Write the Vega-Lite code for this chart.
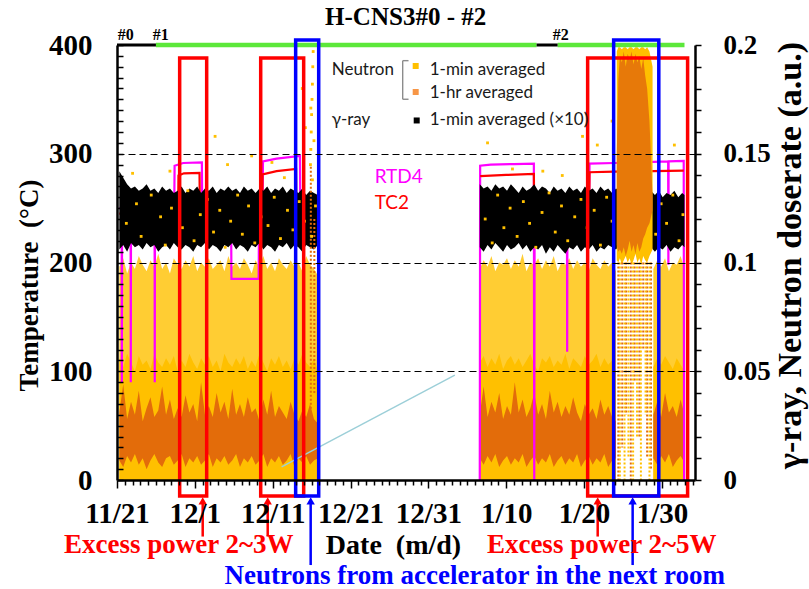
{
"$schema": "https://vega.github.io/schema/vega-lite/v6.json",
"width": 578, "height": 435,
"autosize": {"type": "none"},
"padding": {"left": 117, "top": 45, "right": 114, "bottom": 109},
"background": "white",
"config": {"view": {"stroke": null}, "legend": {"disable": true}},
"datasets": {
"neutronBase": [
{"s":"A","d":0.3,"yt":0.098,"ym":0.056,"olo":0.009,"ohi":0.031},
{"s":"A","d":0.8,"yt":0.102,"ym":0.052,"olo":0.006,"ohi":0.044},
{"s":"A","d":1.3,"yt":0.095,"ym":0.058,"olo":0.011,"ohi":0.028},
{"s":"A","d":1.8,"yt":0.100,"ym":0.054,"olo":0.008,"ohi":0.036},
{"s":"A","d":2.3,"yt":0.097,"ym":0.050,"olo":0.012,"ohi":0.030},
{"s":"A","d":2.8,"yt":0.103,"ym":0.057,"olo":0.007,"ohi":0.041},
{"s":"A","d":3.3,"yt":0.099,"ym":0.053,"olo":0.010,"ohi":0.027},
{"s":"A","d":3.8,"yt":0.096,"ym":0.055,"olo":0.005,"ohi":0.033},
{"s":"A","d":4.3,"yt":0.101,"ym":0.051,"olo":0.009,"ohi":0.038},
{"s":"A","d":4.8,"yt":0.098,"ym":0.058,"olo":0.012,"ohi":0.029},
{"s":"A","d":5.3,"yt":0.104,"ym":0.054,"olo":0.008,"ohi":0.032},
{"s":"A","d":5.8,"yt":0.097,"ym":0.052,"olo":0.006,"ohi":0.043},
{"s":"A","d":6.3,"yt":0.100,"ym":0.056,"olo":0.010,"ohi":0.030},
{"s":"A","d":6.8,"yt":0.095,"ym":0.053,"olo":0.011,"ohi":0.037},
{"s":"A","d":7.3,"yt":0.102,"ym":0.057,"olo":0.007,"ohi":0.028},
{"s":"A","d":7.8,"yt":0.099,"ym":0.050,"olo":0.009,"ohi":0.033},
{"s":"A","d":8.3,"yt":0.097,"ym":0.055,"olo":0.012,"ohi":0.029},
{"s":"A","d":8.8,"yt":0.101,"ym":0.052,"olo":0.006,"ohi":0.039},
{"s":"A","d":9.3,"yt":0.098,"ym":0.058,"olo":0.010,"ohi":0.031},
{"s":"A","d":9.8,"yt":0.103,"ym":0.054,"olo":0.008,"ohi":0.035},
{"s":"A","d":10.3,"yt":0.096,"ym":0.051,"olo":0.011,"ohi":0.027},
{"s":"A","d":10.8,"yt":0.100,"ym":0.056,"olo":0.007,"ohi":0.045},
{"s":"A","d":11.3,"yt":0.098,"ym":0.053,"olo":0.009,"ohi":0.030},
{"s":"A","d":11.8,"yt":0.102,"ym":0.057,"olo":0.012,"ohi":0.034},
{"s":"A","d":12.3,"yt":0.097,"ym":0.052,"olo":0.006,"ohi":0.029},
{"s":"A","d":12.8,"yt":0.099,"ym":0.055,"olo":0.010,"ohi":0.040},
{"s":"A","d":13.3,"yt":0.101,"ym":0.050,"olo":0.008,"ohi":0.031},
{"s":"A","d":13.8,"yt":0.096,"ym":0.058,"olo":0.011,"ohi":0.036},
{"s":"A","d":14.3,"yt":0.103,"ym":0.054,"olo":0.007,"ohi":0.028},
{"s":"A","d":14.8,"yt":0.098,"ym":0.052,"olo":0.009,"ohi":0.042},
{"s":"A","d":15.3,"yt":0.100,"ym":0.056,"olo":0.012,"ohi":0.030},
{"s":"A","d":15.8,"yt":0.097,"ym":0.053,"olo":0.006,"ohi":0.035},
{"s":"A","d":16.3,"yt":0.102,"ym":0.057,"olo":0.010,"ohi":0.029},
{"s":"A","d":16.8,"yt":0.099,"ym":0.051,"olo":0.008,"ohi":0.038},
{"s":"A","d":17.3,"yt":0.095,"ym":0.055,"olo":0.011,"ohi":0.031},
{"s":"A","d":17.8,"yt":0.101,"ym":0.052,"olo":0.007,"ohi":0.033},
{"s":"A","d":18.3,"yt":0.098,"ym":0.058,"olo":0.009,"ohi":0.027},
{"s":"A","d":18.8,"yt":0.103,"ym":0.054,"olo":0.012,"ohi":0.037},
{"s":"A","d":19.3,"yt":0.097,"ym":0.050,"olo":0.006,"ohi":0.030},
{"s":"A","d":19.8,"yt":0.100,"ym":0.056,"olo":0.010,"ohi":0.041},
{"s":"A","d":20.3,"yt":0.096,"ym":0.053,"olo":0.008,"ohi":0.029},
{"s":"A","d":20.8,"yt":0.102,"ym":0.057,"olo":0.011,"ohi":0.034},
{"s":"A","d":21.3,"yt":0.099,"ym":0.052,"olo":0.007,"ohi":0.031},
{"s":"A","d":21.8,"yt":0.097,"ym":0.055,"olo":0.009,"ohi":0.028},
{"s":"A","d":22.3,"yt":0.101,"ym":0.051,"olo":0.012,"ohi":0.036},
{"s":"A","d":22.8,"yt":0.098,"ym":0.056,"olo":0.006,"ohi":0.030},
{"s":"A","d":23.3,"yt":0.100,"ym":0.053,"olo":0.010,"ohi":0.027},
{"s":"A","d":23.8,"yt":0.096,"ym":0.058,"olo":0.008,"ohi":0.032},
{"s":"A","d":24.3,"yt":0.103,"ym":0.054,"olo":0.011,"ohi":0.029},
{"s":"A","d":24.8,"yt":0.099,"ym":0.052,"olo":0.007,"ohi":0.035},
{"s":"A","d":25.3,"yt":0.097,"ym":0.056,"olo":0.009,"ohi":0.028},
{"s":"A","d":25.8,"yt":0.094,"ym":0.050,"olo":0.010,"ohi":0.026},
{"s":"B","d":46.6,"yt":0.097,"ym":0.054,"olo":0.010,"ohi":0.030},
{"s":"B","d":47.1,"yt":0.101,"ym":0.057,"olo":0.007,"ohi":0.043},
{"s":"B","d":47.6,"yt":0.098,"ym":0.052,"olo":0.011,"ohi":0.029},
{"s":"B","d":48.1,"yt":0.103,"ym":0.056,"olo":0.008,"ohi":0.036},
{"s":"B","d":48.6,"yt":0.096,"ym":0.053,"olo":0.012,"ohi":0.031},
{"s":"B","d":49.1,"yt":0.100,"ym":0.058,"olo":0.006,"ohi":0.040},
{"s":"B","d":49.6,"yt":0.099,"ym":0.051,"olo":0.009,"ohi":0.028},
{"s":"B","d":50.1,"yt":0.102,"ym":0.055,"olo":0.011,"ohi":0.034},
{"s":"B","d":50.6,"yt":0.097,"ym":0.057,"olo":0.007,"ohi":0.030},
{"s":"B","d":51.1,"yt":0.101,"ym":0.053,"olo":0.010,"ohi":0.045},
{"s":"B","d":51.6,"yt":0.098,"ym":0.056,"olo":0.008,"ohi":0.031},
{"s":"B","d":52.1,"yt":0.104,"ym":0.052,"olo":0.012,"ohi":0.037},
{"s":"B","d":52.6,"yt":0.096,"ym":0.055,"olo":0.006,"ohi":0.029},
{"s":"B","d":53.1,"yt":0.100,"ym":0.058,"olo":0.009,"ohi":0.033},
{"s":"B","d":53.6,"yt":0.099,"ym":0.053,"olo":0.011,"ohi":0.040},
{"s":"B","d":54.1,"yt":0.102,"ym":0.050,"olo":0.007,"ohi":0.030},
{"s":"B","d":54.6,"yt":0.097,"ym":0.056,"olo":0.010,"ohi":0.035},
{"s":"B","d":55.1,"yt":0.101,"ym":0.054,"olo":0.008,"ohi":0.028},
{"s":"B","d":55.6,"yt":0.098,"ym":0.057,"olo":0.012,"ohi":0.041},
{"s":"B","d":56.1,"yt":0.103,"ym":0.052,"olo":0.006,"ohi":0.031},
{"s":"B","d":56.6,"yt":0.096,"ym":0.055,"olo":0.009,"ohi":0.036},
{"s":"B","d":57.1,"yt":0.100,"ym":0.053,"olo":0.011,"ohi":0.029},
{"s":"B","d":57.6,"yt":0.099,"ym":0.058,"olo":0.007,"ohi":0.034},
{"s":"B","d":58.1,"yt":0.102,"ym":0.051,"olo":0.010,"ohi":0.030},
{"s":"B","d":58.6,"yt":0.097,"ym":0.056,"olo":0.008,"ohi":0.038},
{"s":"B","d":59.1,"yt":0.101,"ym":0.054,"olo":0.012,"ohi":0.031},
{"s":"B","d":59.6,"yt":0.098,"ym":0.052,"olo":0.006,"ohi":0.027},
{"s":"B","d":60.1,"yt":0.100,"ym":0.057,"olo":0.009,"ohi":0.035},
{"s":"B","d":60.6,"yt":0.096,"ym":0.053,"olo":0.011,"ohi":0.030},
{"s":"B","d":61.1,"yt":0.102,"ym":0.055,"olo":0.007,"ohi":0.033},
{"s":"B","d":61.6,"yt":0.099,"ym":0.058,"olo":0.010,"ohi":0.028},
{"s":"B","d":62.1,"yt":0.097,"ym":0.052,"olo":0.008,"ohi":0.037},
{"s":"B","d":62.6,"yt":0.101,"ym":0.056,"olo":0.012,"ohi":0.030},
{"s":"B","d":63.1,"yt":0.098,"ym":0.053,"olo":0.006,"ohi":0.034},
{"s":"B","d":63.6,"yt":0.100,"ym":0.055,"olo":0.009,"ohi":0.029},
{"s":"B","d":64.1,"yt":0.096,"ym":0.050,"olo":0.010,"ohi":0.027},
{"s":"D","d":68.9,"yt":0.097,"ym":0.052,"olo":0.010,"ohi":0.030},
{"s":"D","d":69.4,"yt":0.101,"ym":0.056,"olo":0.007,"ohi":0.036},
{"s":"D","d":69.9,"yt":0.098,"ym":0.053,"olo":0.011,"ohi":0.029},
{"s":"D","d":70.4,"yt":0.102,"ym":0.057,"olo":0.008,"ohi":0.040},
{"s":"D","d":70.9,"yt":0.096,"ym":0.054,"olo":0.012,"ohi":0.031},
{"s":"D","d":71.4,"yt":0.100,"ym":0.051,"olo":0.006,"ohi":0.034},
{"s":"D","d":71.9,"yt":0.099,"ym":0.056,"olo":0.009,"ohi":0.029},
{"s":"D","d":72.4,"yt":0.103,"ym":0.053,"olo":0.011,"ohi":0.037},
{"s":"D","d":72.9,"yt":0.097,"ym":0.050,"olo":0.008,"ohi":0.030}
],
"gamma": [
{"s":"A","d":0.3,"lo":0.106,"hi":0.142},{"s":"A","d":0.8,"lo":0.108,"hi":0.139},{"s":"A","d":1.3,"lo":0.105,"hi":0.136},{"s":"A","d":1.8,"lo":0.109,"hi":0.134},
{"s":"A","d":2.3,"lo":0.107,"hi":0.135},{"s":"A","d":2.8,"lo":0.108,"hi":0.133},{"s":"A","d":3.3,"lo":0.106,"hi":0.134},{"s":"A","d":3.8,"lo":0.109,"hi":0.136},
{"s":"A","d":4.3,"lo":0.107,"hi":0.133},{"s":"A","d":4.8,"lo":0.108,"hi":0.134},{"s":"A","d":5.3,"lo":0.105,"hi":0.132},{"s":"A","d":5.8,"lo":0.107,"hi":0.135},
{"s":"A","d":6.3,"lo":0.108,"hi":0.133},{"s":"A","d":6.8,"lo":0.106,"hi":0.134},{"s":"A","d":7.3,"lo":0.109,"hi":0.132},{"s":"A","d":7.8,"lo":0.107,"hi":0.133},
{"s":"A","d":8.3,"lo":0.106,"hi":0.135},{"s":"A","d":8.8,"lo":0.108,"hi":0.132},{"s":"A","d":9.3,"lo":0.107,"hi":0.134},{"s":"A","d":9.8,"lo":0.105,"hi":0.133},
{"s":"A","d":10.3,"lo":0.108,"hi":0.135},{"s":"A","d":10.8,"lo":0.107,"hi":0.132},{"s":"A","d":11.3,"lo":0.109,"hi":0.134},{"s":"A","d":11.8,"lo":0.106,"hi":0.133},
{"s":"A","d":12.3,"lo":0.108,"hi":0.135},{"s":"A","d":12.8,"lo":0.107,"hi":0.132},{"s":"A","d":13.3,"lo":0.105,"hi":0.134},{"s":"A","d":13.8,"lo":0.108,"hi":0.133},
{"s":"A","d":14.3,"lo":0.107,"hi":0.135},{"s":"A","d":14.8,"lo":0.109,"hi":0.133},{"s":"A","d":15.3,"lo":0.106,"hi":0.134},{"s":"A","d":15.8,"lo":0.108,"hi":0.132},
{"s":"A","d":16.3,"lo":0.107,"hi":0.135},{"s":"A","d":16.8,"lo":0.105,"hi":0.133},{"s":"A","d":17.3,"lo":0.108,"hi":0.134},{"s":"A","d":17.8,"lo":0.107,"hi":0.132},
{"s":"A","d":18.3,"lo":0.109,"hi":0.134},{"s":"A","d":18.8,"lo":0.106,"hi":0.133},{"s":"A","d":19.3,"lo":0.108,"hi":0.135},{"s":"A","d":19.8,"lo":0.107,"hi":0.132},
{"s":"A","d":20.3,"lo":0.105,"hi":0.134},{"s":"A","d":20.8,"lo":0.108,"hi":0.133},{"s":"A","d":21.3,"lo":0.107,"hi":0.135},{"s":"A","d":21.8,"lo":0.109,"hi":0.132},
{"s":"A","d":22.3,"lo":0.106,"hi":0.134},{"s":"A","d":22.8,"lo":0.108,"hi":0.133},{"s":"A","d":23.3,"lo":0.107,"hi":0.132},{"s":"A","d":23.8,"lo":0.105,"hi":0.134},
{"s":"A","d":24.3,"lo":0.108,"hi":0.131},{"s":"A","d":24.8,"lo":0.107,"hi":0.133},{"s":"A","d":25.3,"lo":0.106,"hi":0.132},{"s":"A","d":25.8,"lo":0.108,"hi":0.131},
{"s":"B","d":46.6,"lo":0.107,"hi":0.136},{"s":"B","d":47.1,"lo":0.105,"hi":0.134},{"s":"B","d":47.6,"lo":0.108,"hi":0.135},{"s":"B","d":48.1,"lo":0.106,"hi":0.133},
{"s":"B","d":48.6,"lo":0.109,"hi":0.136},{"s":"B","d":49.1,"lo":0.107,"hi":0.134},{"s":"B","d":49.6,"lo":0.105,"hi":0.135},{"s":"B","d":50.1,"lo":0.108,"hi":0.133},
{"s":"B","d":50.6,"lo":0.106,"hi":0.136},{"s":"B","d":51.1,"lo":0.107,"hi":0.134},{"s":"B","d":51.6,"lo":0.109,"hi":0.132},{"s":"B","d":52.1,"lo":0.106,"hi":0.135},
{"s":"B","d":52.6,"lo":0.108,"hi":0.133},{"s":"B","d":53.1,"lo":0.105,"hi":0.134},{"s":"B","d":53.6,"lo":0.107,"hi":0.136},{"s":"B","d":54.1,"lo":0.106,"hi":0.133},
{"s":"B","d":54.6,"lo":0.108,"hi":0.135},{"s":"B","d":55.1,"lo":0.104,"hi":0.134},{"s":"B","d":55.6,"lo":0.107,"hi":0.132},{"s":"B","d":56.1,"lo":0.105,"hi":0.135},
{"s":"B","d":56.6,"lo":0.108,"hi":0.133},{"s":"B","d":57.1,"lo":0.106,"hi":0.134},{"s":"B","d":57.6,"lo":0.104,"hi":0.132},{"s":"B","d":58.1,"lo":0.107,"hi":0.135},
{"s":"B","d":58.6,"lo":0.106,"hi":0.133},{"s":"B","d":59.1,"lo":0.108,"hi":0.134},{"s":"B","d":59.6,"lo":0.105,"hi":0.132},{"s":"B","d":60.1,"lo":0.107,"hi":0.135},
{"s":"B","d":60.6,"lo":0.106,"hi":0.133},{"s":"B","d":61.1,"lo":0.108,"hi":0.134},{"s":"B","d":61.6,"lo":0.105,"hi":0.132},{"s":"B","d":62.1,"lo":0.107,"hi":0.135},
{"s":"B","d":62.6,"lo":0.106,"hi":0.133},{"s":"B","d":63.1,"lo":0.108,"hi":0.134},{"s":"B","d":63.6,"lo":0.107,"hi":0.132},{"s":"B","d":64.1,"lo":0.106,"hi":0.134},
{"s":"B","d":64.6,"lo":0.108,"hi":0.133},{"s":"B","d":65.1,"lo":0.107,"hi":0.135},{"s":"B","d":65.6,"lo":0.106,"hi":0.133},{"s":"B","d":66.1,"lo":0.108,"hi":0.134},
{"s":"B","d":66.6,"lo":0.105,"hi":0.132},{"s":"B","d":67.1,"lo":0.107,"hi":0.134},{"s":"B","d":67.6,"lo":0.106,"hi":0.133},{"s":"B","d":68.1,"lo":0.108,"hi":0.131},
{"s":"B","d":68.6,"lo":0.107,"hi":0.133},{"s":"B","d":69.1,"lo":0.105,"hi":0.131},{"s":"B","d":69.6,"lo":0.107,"hi":0.133},{"s":"B","d":70.1,"lo":0.106,"hi":0.130},
{"s":"B","d":70.6,"lo":0.108,"hi":0.132},{"s":"B","d":71.1,"lo":0.105,"hi":0.131},{"s":"B","d":71.6,"lo":0.107,"hi":0.133},{"s":"B","d":72.1,"lo":0.106,"hi":0.130},
{"s":"B","d":72.6,"lo":0.108,"hi":0.132},{"s":"B","d":72.9,"lo":0.107,"hi":0.131}
],
"highRegion": [
{"d":64.2,"yb":0.101,"yt":0.197,"ob":0.108,"ot":0.150},
{"d":64.4,"yb":0.100,"yt":0.199,"ob":0.105,"ot":0.184},
{"d":64.6,"yb":0.102,"yt":0.199,"ob":0.106,"ot":0.195},
{"d":64.85,"yb":0.099,"yt":0.198,"ob":0.104,"ot":0.192},
{"d":65.1,"yb":0.101,"yt":0.199,"ob":0.107,"ot":0.197},
{"d":65.35,"yb":0.103,"yt":0.199,"ob":0.103,"ot":0.190},
{"d":65.6,"yb":0.100,"yt":0.198,"ob":0.106,"ot":0.196},
{"d":65.85,"yb":0.102,"yt":0.199,"ob":0.110,"ot":0.193},
{"d":66.1,"yb":0.099,"yt":0.199,"ob":0.105,"ot":0.197},
{"d":66.35,"yb":0.101,"yt":0.198,"ob":0.108,"ot":0.191},
{"d":66.6,"yb":0.104,"yt":0.199,"ob":0.104,"ot":0.196},
{"d":66.85,"yb":0.100,"yt":0.199,"ob":0.109,"ot":0.192},
{"d":67.1,"yb":0.102,"yt":0.198,"ob":0.105,"ot":0.195},
{"d":67.35,"yb":0.099,"yt":0.199,"ob":0.107,"ot":0.189},
{"d":67.6,"yb":0.103,"yt":0.199,"ob":0.111,"ot":0.194},
{"d":67.85,"yb":0.101,"yt":0.198,"ob":0.113,"ot":0.186},
{"d":68.1,"yb":0.100,"yt":0.199,"ob":0.116,"ot":0.180},
{"d":68.4,"yb":0.103,"yt":0.197,"ob":0.118,"ot":0.165},
{"d":68.8,"yb":0.106,"yt":0.190,"ob":0.124,"ot":0.130}
],
"streaks": [
{"d":64.4,"lo":0.0,"hi":0.1,"k":"1-hr"},{"d":64.9,"lo":0.015,"hi":0.1,"k":"1-hr"},{"d":65.4,"lo":0.03,"hi":0.1,"k":"1-hr"},
{"d":66.0,"lo":0.0,"hi":0.1,"k":"1-hr"},{"d":66.5,"lo":0.045,"hi":0.1,"k":"1-hr"},{"d":67.1,"lo":0.02,"hi":0.1,"k":"1-hr"},
{"d":67.6,"lo":0.06,"hi":0.1,"k":"1-hr"},{"d":68.1,"lo":0.01,"hi":0.1,"k":"1-hr"},{"d":68.6,"lo":0.005,"hi":0.1,"k":"1-hr"},
{"d":64.6,"lo":0.0,"hi":0.1,"k":"1-min"},{"d":65.2,"lo":0.0,"hi":0.1,"k":"1-min"},{"d":65.7,"lo":0.01,"hi":0.1,"k":"1-min"},
{"d":66.3,"lo":0.0,"hi":0.1,"k":"1-min"},{"d":66.8,"lo":0.02,"hi":0.1,"k":"1-min"},{"d":67.3,"lo":0.0,"hi":0.1,"k":"1-min"},
{"d":67.9,"lo":0.03,"hi":0.1,"k":"1-min"},{"d":68.4,"lo":0.0,"hi":0.1,"k":"1-min"},
{"d":24.9,"lo":0.03,"hi":0.144,"k":"1-hr"},{"d":25.35,"lo":0.04,"hi":0.12,"k":"1-hr"}
],
"n1minPts": [
{"d":1.2,"v":0.118},{"d":2.5,"v":0.127},{"d":3.1,"v":0.112},{"d":4.4,"v":0.131},{"d":5.6,"v":0.121},{"d":6.2,"v":0.108},{"d":7.0,"v":0.125},{"d":8.4,"v":0.116},
{"d":9.1,"v":0.133},{"d":9.9,"v":0.110},{"d":10.7,"v":0.122},{"d":11.6,"v":0.129},{"d":12.4,"v":0.114},{"d":13.2,"v":0.124},{"d":13.9,"v":0.107},{"d":14.6,"v":0.119},
{"d":15.5,"v":0.131},{"d":16.1,"v":0.113},{"d":16.9,"v":0.126},{"d":17.7,"v":0.109},{"d":18.5,"v":0.121},{"d":19.4,"v":0.117},{"d":20.2,"v":0.130},{"d":21.0,"v":0.111},
{"d":21.9,"v":0.124},{"d":22.6,"v":0.115},{"d":23.4,"v":0.128},{"d":24.1,"v":0.119},{"d":25.0,"v":0.112},{"d":25.5,"v":0.126},
{"d":12.6,"v":0.158},{"d":17.3,"v":0.149},{"d":6.8,"v":0.142},{"d":14.2,"v":0.145},{"d":21.5,"v":0.139},{"d":2.0,"v":0.141},{"d":19.9,"v":0.146},
{"d":24.2,"v":0.162},{"d":23.8,"v":0.180},{"d":24.85,"v":0.145},{"d":24.9,"v":0.152},{"d":24.95,"v":0.160},{"d":25.0,"v":0.168},{"d":25.05,"v":0.175},
{"d":25.1,"v":0.182},{"d":25.15,"v":0.190},{"d":25.2,"v":0.197},{"d":25.1,"v":0.138},{"d":24.9,"v":0.171},{"d":25.3,"v":0.156},
{"d":47.3,"v":0.120},{"d":48.2,"v":0.109},{"d":48.9,"v":0.131},{"d":49.7,"v":0.116},{"d":50.5,"v":0.125},{"d":51.4,"v":0.112},{"d":52.2,"v":0.128},{"d":53.0,"v":0.118},
{"d":53.8,"v":0.107},{"d":54.6,"v":0.123},{"d":55.5,"v":0.132},{"d":56.3,"v":0.114},{"d":57.1,"v":0.126},{"d":57.9,"v":0.110},{"d":58.8,"v":0.121},{"d":59.6,"v":0.129},
{"d":60.4,"v":0.116},{"d":61.3,"v":0.124},{"d":62.1,"v":0.108},{"d":62.9,"v":0.130},{"d":63.6,"v":0.119},{"d":69.2,"v":0.113},{"d":69.9,"v":0.127},{"d":70.6,"v":0.118},
{"d":71.4,"v":0.131},{"d":72.2,"v":0.110},{"d":72.7,"v":0.122},
{"d":47.6,"v":0.155},{"d":54.7,"v":0.142},{"d":57.2,"v":0.140},{"d":59.8,"v":0.158},{"d":61.7,"v":0.154},{"d":63.6,"v":0.165},{"d":71.6,"v":0.154},{"d":50.8,"v":0.143}
],
"temps": [
{"k":"RTD4","g":1,"d":0.3,"T":250},{"k":"RTD4","g":1,"d":0.6,"T":250},{"k":"RTD4","g":1,"d":0.62,"T":90},{"k":"RTD4","g":1,"d":0.65,"T":250},
{"k":"RTD4","g":1,"d":1.75,"T":250},{"k":"RTD4","g":1,"d":1.77,"T":90},{"k":"RTD4","g":1,"d":1.8,"T":250},
{"k":"RTD4","g":1,"d":4.83,"T":250},{"k":"RTD4","g":1,"d":4.85,"T":90},{"k":"RTD4","g":1,"d":4.88,"T":250},
{"k":"RTD4","g":1,"d":7.35,"T":250},{"k":"RTD4","g":1,"d":7.4,"T":289},{"k":"RTD4","g":1,"d":8.5,"T":291.5},{"k":"RTD4","g":1,"d":10.9,"T":292},{"k":"RTD4","g":1,"d":10.95,"T":250},
{"k":"RTD4","g":1,"d":14.65,"T":250},{"k":"RTD4","g":1,"d":14.7,"T":185},{"k":"RTD4","g":1,"d":18.2,"T":185},{"k":"RTD4","g":1,"d":18.25,"T":250},
{"k":"RTD4","g":1,"d":18.7,"T":250},{"k":"RTD4","g":1,"d":18.75,"T":293},{"k":"RTD4","g":1,"d":20.5,"T":295.5},{"k":"RTD4","g":1,"d":23.5,"T":298},{"k":"RTD4","g":1,"d":23.55,"T":250},{"k":"RTD4","g":1,"d":25.8,"T":250},
{"k":"RTD4","g":2,"d":46.6,"T":0},{"k":"RTD4","g":2,"d":46.65,"T":289},{"k":"RTD4","g":2,"d":48,"T":290},{"k":"RTD4","g":2,"d":51,"T":290.5},{"k":"RTD4","g":2,"d":53.55,"T":291},
{"k":"RTD4","g":2,"d":53.6,"T":0},{"k":"RTD4","g":2,"d":53.65,"T":250},{"k":"RTD4","g":2,"d":57.8,"T":250},{"k":"RTD4","g":2,"d":57.83,"T":118},{"k":"RTD4","g":2,"d":57.86,"T":250},
{"k":"RTD4","g":2,"d":60.65,"T":250},{"k":"RTD4","g":2,"d":60.7,"T":291},{"k":"RTD4","g":2,"d":63.9,"T":291.5},{"k":"RTD4","g":2,"d":68.9,"T":292.5},{"k":"RTD4","g":2,"d":70.8,"T":293},
{"k":"RTD4","g":2,"d":70.83,"T":198},{"k":"RTD4","g":2,"d":70.86,"T":293},{"k":"RTD4","g":2,"d":72.8,"T":293.5},{"k":"RTD4","g":2,"d":72.85,"T":0},
{"k":"TC2","g":1,"d":0.3,"T":245},{"k":"TC2","g":1,"d":7.85,"T":245},{"k":"TC2","g":1,"d":7.9,"T":280},{"k":"TC2","g":1,"d":8.6,"T":282},{"k":"TC2","g":1,"d":10.6,"T":282.5},{"k":"TC2","g":1,"d":10.65,"T":245},
{"k":"TC2","g":1,"d":18.65,"T":245},{"k":"TC2","g":1,"d":18.7,"T":281},{"k":"TC2","g":1,"d":20.5,"T":284},{"k":"TC2","g":1,"d":23.0,"T":286},{"k":"TC2","g":1,"d":23.05,"T":245},{"k":"TC2","g":1,"d":25.8,"T":245},
{"k":"TC2","g":2,"d":46.65,"T":279.5},{"k":"TC2","g":2,"d":50,"T":280.5},{"k":"TC2","g":2,"d":53.55,"T":281.5},{"k":"TC2","g":2,"d":53.6,"T":245},{"k":"TC2","g":2,"d":60.65,"T":245},
{"k":"TC2","g":2,"d":60.7,"T":283},{"k":"TC2","g":2,"d":63.9,"T":283.5},{"k":"TC2","g":2,"d":68.9,"T":284},{"k":"TC2","g":2,"d":72.8,"T":284.5}
],
"shifts": [{"d":5.0},{"d":53.9},{"d":56.6},{"d":72.7}],
"runBars": [
{"d":0,"d2":5.0,"T":400,"state":"idle"},
{"d":5.0,"d2":53.9,"T":400,"state":"run"},
{"d":53.9,"d2":56.6,"T":400,"state":"idle"},
{"d":56.6,"d2":72.9,"T":400,"state":"run"}
],
"arrows": [
{"d":11.01,"T":-19,"T2":-52,"kind":"power"},
{"d":19.36,"T":-19,"T2":-52,"kind":"power"},
{"d":61.75,"T":-19,"T2":-52,"kind":"power"},
{"d":24.88,"T":-19,"T2":-78.2,"kind":"accel"},
{"d":66.24,"T":-19,"T2":-78.2,"kind":"accel"}
],
"thinLines": [
{"d":21.15,"d2":43.4,"T":12,"T2":96.5,"kind":"pointer"},
{"d":36.7,"d2":36.7,"T":385.6,"T2":350.1,"kind":"bracket"},
{"d":36.7,"d2":37.45,"T":385.6,"T2":385.6,"kind":"bracket"},
{"d":36.7,"d2":37.45,"T":350.1,"T2":350.1,"kind":"bracket"}
],
"boxes": [
{"d":8.05,"d2":11.52,"T":-14.7,"T2":388,"kind":"power"},
{"d":18.46,"d2":23.98,"T":-14.7,"T2":388,"kind":"power"},
{"d":60.46,"d2":73.3,"T":-14.7,"T2":388,"kind":"power"},
{"d":22.95,"d2":25.91,"T":-14.7,"T2":404.6,"kind":"accel"},
{"d":63.8,"d2":69.6,"T":-14.7,"T2":404.6,"kind":"accel"}
],
"heads": [
{"d":11.01,"T":-19.3,"kind":"power"},{"d":19.36,"T":-19.3,"kind":"power"},{"d":61.75,"T":-19.3,"kind":"power"},
{"d":24.88,"T":-19.3,"kind":"accel"},{"d":66.24,"T":-19.3,"kind":"accel"}
],
"notes": [
{"d":7.93,"T":-67.1,"text":"Excess power 2~3W","kind":"power"},
{"d":62.26,"T":-67.1,"text":"Excess power 2~5W","kind":"power"},
{"d":45.95,"T":-95.2,"text":"Neutrons from accelerator in the next room","kind":"accel"}
],
"tempLabels": [
{"d":33.1,"T":273.1,"text":"RTD4","kind":"RTD4"},
{"d":33.1,"T":249.2,"text":"TC2","kind":"TC2"}
],
"runLabels": [
{"d":0.1,"T":404.6,"text":"#0"},{"d":4.59,"T":404.6,"text":"#1"},{"d":55.97,"T":404.6,"text":"#2"}
],
"legendText": [
{"d":27.58,"T":372.4,"text":"Neutron"},
{"d":40.17,"T":372.4,"text":"1-min averaged"},
{"d":40.17,"T":351.3,"text":"1-hr averaged"},
{"d":27.58,"T":326.4,"text":"γ-ray"},
{"d":40.17,"T":326.4,"text":"1-min averaged (×10)"}
],
"legendKeys": [
{"d":38.37,"T":380.7,"k":"1-min"},{"d":38.37,"T":356.8,"k":"1-hr"},{"d":38.5,"T":330.6,"k":"gamma"}
],
"titleText": [{"d":37.08,"T":418.4,"text":"H-CNS3#0 - #2"}]
},
"resolve": {"scale": {"y": "independent", "color": "independent", "fill": "independent", "stroke": "independent"}},
"encoding": {
"x": {"field": "d", "type": "quantitative",
 "scale": {"domain": [0, 74.25], "nice": false, "zero": false},
 "axis": {
  "values": [0,1,2,3,4,5,6,7,8,9,10,11,12,13,14,15,16,17,18,19,20,21,22,23,24,25,26,27,28,29,30,31,32,33,34,35,36,37,38,39,40,41,42,43,44,45,46,47,48,49,50,51,52,53,54,55,56,57,58,59,60,61,62,63,64,65,66,67,68,69,70,71,72,73,74],
  "labelExpr": "datum.value % 10 == 0 ? timeFormat(datetime(2017, 10, 21 + datum.value), '%-m/%-d') : ''",
  "tickSize": {"condition": {"test": "datum.value % 10 == 0", "value": 8}, "value": 5},
  "tickWidth": 1.5, "tickColor": "#000000",
  "domainColor": "#000000", "domainWidth": 2.5,
  "labelFont": "Liberation Serif", "labelFontWeight": "bold", "labelFontSize": 29, "labelColor": "#000000",
  "labelPadding": 11, "labelFlush": false, "labelOverlap": false,
  "grid": false,
  "title": "Date\u00a0\u00a0(m/d)", "titleFont": "Liberation Serif", "titleFontWeight": "bold", "titleFontSize": 28, "titleColor": "#000000",
  "titleX": 276, "titleY": 73, "titleAlign": "center", "titleBaseline": "alphabetic",
  "zindex": 1
 }
}
},
"layer": [
{
 "encoding": {"y": {"field": "yt", "type": "quantitative", "scale": {"domain": [0, 0.2], "nice": false, "zero": false}, "axis": null}},
 "layer": [
  {"data": {"name": "neutronBase"}, "mark": {"type": "area", "color": "#FFC000", "opacity": 0.8},
   "encoding": {"y": {"field": "yt", "type": "quantitative", "axis": null}, "y2": {"datum": 0}, "detail": {"field": "s"}}},
  {"data": {"name": "neutronBase"}, "mark": {"type": "area", "color": "#FFC000"},
   "encoding": {"y": {"field": "ym", "type": "quantitative", "axis": null}, "y2": {"datum": 0}, "detail": {"field": "s"}}},
  {"data": {"name": "neutronBase"}, "mark": {"type": "area", "color": "#E36C0A"},
   "encoding": {"y": {"field": "ohi", "type": "quantitative", "axis": null}, "y2": {"field": "olo"}, "detail": {"field": "s"}}}
 ]
},
{
 "layer": [
  {"data": {"name": "temps"}, "mark": {"type": "line", "strokeWidth": 2.2},
   "encoding": {
    "y": {"field": "T", "type": "quantitative", "scale": {"domain": [0, 400], "nice": false, "zero": false},
     "axis": {
      "orient": "left",
      "values": [0,10,20,30,40,50,60,70,80,90,100,110,120,130,140,150,160,170,180,190,200,210,220,230,240,250,260,270,280,290,300,310,320,330,340,350,360,370,380,390,400],
      "labelExpr": "datum.value % 100 == 0 ? datum.label : ''",
      "tickSize": -6, "tickWidth": 1.5, "tickColor": "#000000",
      "domainColor": "#000000", "domainWidth": 2.5,
      "labelFont": "Liberation Serif", "labelFontWeight": "bold", "labelFontSize": 29, "labelColor": "#000000",
      "labelPadding": 31, "labelOverlap": false, "labelFlush": false,
      "grid": true, "gridColor": "#000000", "gridDash": [7, 4], "gridWidth": 1,
      "gridOpacity": {"condition": {"test": "datum.value == 100 || datum.value == 200 || datum.value == 300", "value": 1}, "value": 0},
      "title": "Temperature\u00a0\u00a0(°C)", "titleFont": "Liberation Serif", "titleFontWeight": "bold", "titleFontSize": 27, "titleColor": "#000000",
      "titleX": -88, "titleY": 240, "titleAngle": 270, "titleAlign": "center", "titleBaseline": "middle",
      "zindex": 1
     }},
    "color": {"field": "k", "type": "nominal", "scale": {"domain": ["RTD4", "TC2"], "range": ["#FF00FF", "#FF0000"]}, "legend": null},
    "detail": {"field": "g"}
   }}
 ]
},
{
 "encoding": {"y": {"field": "v", "type": "quantitative", "scale": {"domain": [0, 0.2], "nice": false, "zero": false}, "axis": null}},
 "layer": [
  {"data": {"name": "gamma"}, "mark": {"type": "area", "color": "#000000"},
   "encoding": {"y": {"field": "hi", "type": "quantitative", "axis": null}, "y2": {"field": "lo"}, "detail": {"field": "s"}}},
  {"data": {"name": "highRegion"}, "mark": {"type": "area", "color": "#FFC000"},
   "encoding": {"y": {"field": "yt", "type": "quantitative", "axis": null}, "y2": {"field": "yb"}}},
  {"data": {"name": "highRegion"}, "mark": {"type": "area", "color": "#E36C0A", "opacity": 0.85},
   "encoding": {"y": {"field": "ot", "type": "quantitative", "axis": null}, "y2": {"field": "ob"}}},
  {"data": {"name": "streaks"}, "mark": {"type": "rule", "strokeWidth": 2, "strokeDash": [2, 2]},
   "encoding": {"y": {"field": "hi", "type": "quantitative", "axis": null}, "y2": {"field": "lo"},
    "color": {"field": "k", "type": "nominal", "scale": {"domain": ["1-min", "1-hr"], "range": ["#FFC000", "#E36C0A"]}, "legend": null}}},
  {"data": {"name": "n1minPts"}, "mark": {"type": "point", "shape": "square", "filled": true, "size": 8, "color": "#FFC000", "opacity": 1}}
 ]
},
{
 "encoding": {"y": {"field": "T", "type": "quantitative", "scale": {"domain": [0, 400], "nice": false, "zero": false}, "axis": null}},
 "layer": [
  {"data": {"name": "shifts"}, "mark": {"type": "rule", "color": "#7FA6D6", "strokeWidth": 1, "strokeDash": [7, 3, 2, 3]},
   "encoding": {"y": {"datum": 0, "type": "quantitative", "axis": null}, "y2": {"datum": 400}}},
  {"data": {"name": "runBars"}, "transform": [{"filter": "datum.state == 'run'"}], "mark": {"type": "rule", "color": "#5CE83A", "strokeWidth": 4.5},
   "encoding": {"x2": {"field": "d2"}}},
  {"data": {"name": "runBars"}, "transform": [{"filter": "datum.state == 'idle'"}], "mark": {"type": "rule", "color": "#000000", "strokeWidth": 3},
   "encoding": {"x2": {"field": "d2"}}},
  {"data": {"name": "thinLines"}, "mark": {"type": "rule", "strokeWidth": 1.4},
   "encoding": {"x2": {"field": "d2"}, "y2": {"field": "T2"},
    "stroke": {"field": "kind", "type": "nominal", "scale": {"domain": ["bracket","pointer","power","accel"], "range": ["#8C8C8C","#9CCFD8","#FF0000","#0000FF"]}, "legend": null}}},
  {"data": {"name": "arrows"}, "mark": {"type": "rule", "strokeWidth": 2.5},
   "encoding": {"y2": {"field": "T2"},
    "stroke": {"field": "kind", "type": "nominal", "scale": {"domain": ["bracket","pointer","power","accel"], "range": ["#8C8C8C","#9CCFD8","#FF0000","#0000FF"]}, "legend": null}}},
  {"data": {"name": "boxes"}, "mark": {"type": "rect", "fillOpacity": 0, "strokeWidth": 3.5},
   "encoding": {"x2": {"field": "d2"}, "y2": {"field": "T2"},
    "stroke": {"field": "kind", "type": "nominal", "scale": {"domain": ["bracket","pointer","power","accel"], "range": ["#8C8C8C","#9CCFD8","#FF0000","#0000FF"]}, "legend": null}}},
  {"data": {"name": "heads"}, "mark": {"type": "point", "shape": "triangle-up", "filled": true, "size": 70, "opacity": 1},
   "encoding": {"fill": {"field": "kind", "type": "nominal", "scale": {"domain": ["power","accel","RTD4","TC2"], "range": ["#FF0000","#0000FF","#FF00FF","#FF0000"]}, "legend": null}}},
  {"data": {"name": "notes"}, "mark": {"type": "text", "font": "Liberation Serif", "fontWeight": "bold", "fontSize": 27, "align": "center", "baseline": "alphabetic"},
   "encoding": {"text": {"field": "text"}, "fill": {"field": "kind", "type": "nominal", "scale": {"domain": ["power","accel","RTD4","TC2"], "range": ["#FF0000","#0000FF","#FF00FF","#FF0000"]}, "legend": null}}},
  {"data": {"name": "tempLabels"}, "mark": {"type": "text", "font": "Lato", "fontSize": 19, "align": "left", "baseline": "alphabetic"},
   "encoding": {"text": {"field": "text"}, "fill": {"field": "kind", "type": "nominal", "scale": {"domain": ["power","accel","RTD4","TC2"], "range": ["#FF0000","#0000FF","#FF00FF","#FF0000"]}, "legend": null}}},
  {"data": {"name": "runLabels"}, "mark": {"type": "text", "font": "Liberation Serif", "fontWeight": "bold", "fontSize": 16, "align": "left", "baseline": "alphabetic", "color": "#000000"},
   "encoding": {"text": {"field": "text"}}},
  {"data": {"name": "legendText"}, "mark": {"type": "text", "font": "Lato", "fontSize": 17, "align": "left", "baseline": "alphabetic", "color": "#1A1A1A"},
   "encoding": {"text": {"field": "text"}}},
  {"data": {"name": "legendKeys"}, "mark": {"type": "point", "shape": "square", "filled": true, "size": 36, "opacity": 1},
   "encoding": {"color": {"field": "k", "type": "nominal", "scale": {"domain": ["1-min","1-hr","gamma"], "range": ["#FFC000","#F79646","#000000"]}, "legend": null}}},
  {"data": {"name": "titleText"}, "mark": {"type": "text", "font": "Liberation Serif", "fontWeight": "bold", "fontSize": 25, "align": "center", "baseline": "alphabetic", "color": "#000000"},
   "encoding": {"text": {"field": "text"}}}
 ]
},
{
 "data": {"name": "n1minPts"},
 "mark": {"type": "point", "opacity": 0},
 "encoding": {
  "y": {"field": "v", "type": "quantitative", "scale": {"domain": [0, 0.2], "nice": false, "zero": false},
   "axis": {
    "orient": "right",
    "values": [0,0.01,0.02,0.03,0.04,0.05,0.06,0.07,0.08,0.09,0.1,0.11,0.12,0.13,0.14,0.15,0.16,0.17,0.18,0.19,0.2],
    "labelExpr": "round(datum.value*100) % 5 == 0 ? format(datum.value, '~g') : ''",
    "tickSize": 6, "tickWidth": 1.5, "tickColor": "#000000",
    "domainColor": "#000000", "domainWidth": 2.5,
    "labelFont": "Liberation Serif", "labelFontWeight": "bold", "labelFontSize": 27, "labelColor": "#000000",
    "labelPadding": 22, "labelOverlap": false, "labelFlush": false, "grid": false,
    "title": "γ-ray, Neutron doserate (a.u.)", "titleFont": "Liberation Serif", "titleFontWeight": "bold", "titleFontSize": 34, "titleColor": "#000000",
    "titleX": 95, "titleY": 210, "titleAngle": 270, "titleAlign": "center", "titleBaseline": "middle",
    "zindex": 1
   }}
 }
}
]
}
